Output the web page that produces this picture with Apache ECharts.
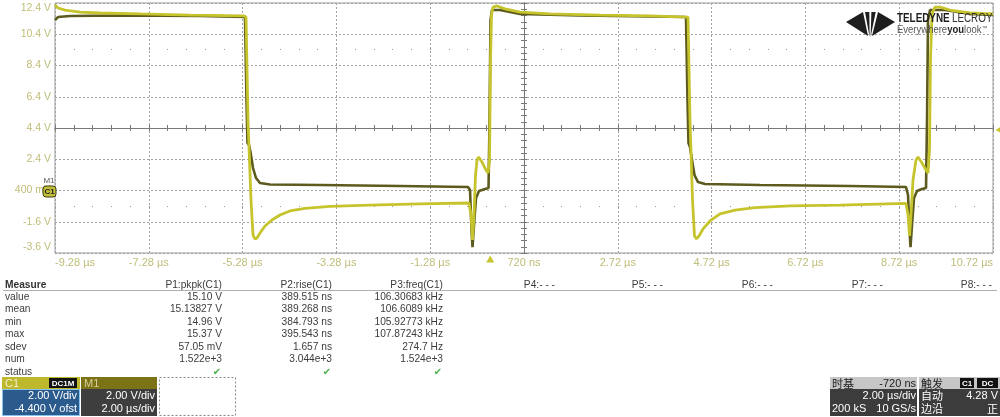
<!DOCTYPE html>
<html><head><meta charset="utf-8">
<script src="https://cdn.jsdelivr.net/npm/echarts@6/dist/echarts.min.js"></script>
<style>html,body{margin:0;padding:0;background:#fff}#c{width:1000px;height:417px}</style>
</head><body><div id="c"></div>
<script>
// ---- axis tick labels ----
const xTickLabels = ['-9.28 µs','-7.28 µs','-5.28 µs','-3.28 µs','-1.28 µs','720 ns','2.72 µs','4.72 µs','6.72 µs','8.72 µs','10.72 µs'];
const yTickLabels = ['-3.6 V','-1.6 V','400 mV','2.4 V','4.4 V','6.4 V','8.4 V','10.4 V','12.4 V'];
const xMin = -9.28, xMax = 10.72, yMin = -3.6, yMax = 12.4;

// ---- C1 trace (time µs, volts) ----
const c1Time = [-9.28,-9.216,-9.067,-8.747,-8.32,-7.468,-6.402,-5.25,-5.207,-5.165,-5.101,-5.058,-5.016,-4.973,-4.909,-4.802,-4.653,-4.483,-4.269,-3.95,-3.417,-2.564,-1.498,-0.453,
 -0.41,-0.378,-0.346,-0.314,-0.282,-0.25,-0.175,-0.09,-0.047,-0.015,0.006,0.027,0.059,0.144,0.315,0.635,1.274,2.34,3.406,4.174,
 4.217,4.259,4.313,4.355,4.398,4.451,4.537,4.686,4.899,5.219,5.646,6.392,7.458,8.865,
 8.908,8.94,8.972,9.014,9.078,9.121,9.206,9.292,9.334,9.366,9.387,9.419,9.483,9.59,9.803,10.229,10.72];
const c1Volt = [12.27,12.08,11.95,11.82,11.76,11.70,11.63,11.57,11.50,4.91,-0.21,-2.45,-2.70,-2.64,-2.32,-1.87,-1.49,-1.17,-0.91,-0.75,-0.62,-0.53,-0.46,-0.40,
 -1.17,-2.77,-1.17,1.39,2.35,2.54,2.22,1.71,1.52,2.35,8.75,11.63,12.14,12.21,12.02,11.82,11.70,11.63,11.57,11.50,
 11.50,4.91,-0.21,-2.51,-2.70,-2.51,-2.06,-1.55,-1.10,-0.85,-0.69,-0.59,-0.53,-0.43,
 -1.17,-2.51,-1.17,1.07,2.35,2.54,2.16,1.71,1.52,2.99,8.75,11.70,12.14,12.14,11.95,11.76,11.70];

// ---- M1 trace (time µs, volts) ----
const m1Time = [-9.28,-9.216,-8.96,-7.894,-6.188,-5.229,-5.197,-5.176,-5.144,-5.112,-5.058,-4.994,-4.909,-4.696,-3.63,-1.924,-0.474,
 -0.431,-0.399,-0.378,-0.346,-0.303,-0.239,-0.111,-0.036,-0.015,0.006,0.038,0.209,0.635,1.914,4.174,
 4.206,4.227,4.259,4.302,4.355,4.43,4.579,5.752,7.671,8.865,
 8.908,8.94,8.961,8.993,9.036,9.1,9.206,9.292,9.313,9.334,9.377,9.697,10.229,10.72];
const m1Volt = [11.31,11.50,11.57,11.60,11.57,11.50,6.19,3.44,3.31,2.86,1.84,1.20,0.88,0.78,0.75,0.69,0.62,
 0.43,-2.13,-3.22,-1.81,-0.08,0.37,0.50,0.56,4.91,11.31,11.95,11.95,11.70,11.60,11.50,
 6.19,3.44,3.18,2.35,1.39,0.94,0.82,0.75,0.69,0.62,
 0.11,-2.13,-3.22,-1.81,-0.08,0.37,0.50,0.56,4.91,11.31,11.95,11.95,11.70,11.63];

const triggerTime = 0, triggerLevel = 4.28;

// ---- measurement table ----
const measureRows = ['value','mean','min','max','sdev','num','status'];
const measureHeaders = ['P1:pkpk(C1)','P2:rise(C1)','P3:freq(C1)','P4:- - -','P5:- - -','P6:- - -','P7:- - -','P8:- - -'];
const p1Values = ['15.10 V','15.13827 V','14.96 V','15.37 V','57.05 mV','1.522e+3'];
const p2Values = ['389.515 ns','389.268 ns','384.793 ns','395.543 ns','1.657 ns','3.044e+3'];
const p3Values = ['106.30683 kHz','106.6089 kHz','105.92773 kHz','107.87243 kHz','274.7 Hz','1.524e+3'];

const FONT = "'Liberation Sans', Arial, sans-serif";
const CJK = "'Noto Sans CJK SC', sans-serif";
const chart = echarts.init(document.getElementById('c'), null, {renderer:'canvas'});

function T(x, y, s, o) {
  o = o || {};
  const st = {text: s, fill: o.fill || '#3c3c3c', font: (o.weight||'normal') + ' ' + (o.size||10.2) + 'px ' + (o.family||FONT),
    align: o.align || 'left', verticalAlign: 'middle', textAlign: o.align || 'left', textVerticalAlign: 'middle'};
  if (o.rich) st.rich = o.rich;
  const el = {type:'text', x:x, y:y, z:100, silent:true, style: st};
  if (o.scaleX) el.scaleX = o.scaleX;
  return el;
}
function R(x, y, w, h, fill, stroke, dash) {
  return {type:'rect', z:90, silent:true, shape:{x:x, y:y, width:w, height:h},
    style:{fill: fill || 'none', stroke: stroke || null, lineWidth: 1, lineDash: dash || null}};
}

const gfx = [];
// table header
gfx.push(T(5, 285, 'Measure', {weight:'bold', fill:'#333'}));
const colRight = [222, 332, 443, 555, 663, 773, 883, 992];
measureHeaders.forEach((h, i) => gfx.push(T(colRight[i], 285, h, {align:'right'})));
gfx.push({type:'line', z:90, silent:true, shape:{x1:3, y1:290.5, x2:997, y2:290.5}, style:{stroke:'#b0b0b0', lineWidth:1}});
measureRows.forEach((r, i) => gfx.push(T(5, 297 + i*12.5, r)));
[p1Values, p2Values, p3Values].forEach((col, c) => {
  col.forEach((v, i) => gfx.push(T(colRight[c], 297 + i*12.5, v, {align:'right'})));
  gfx.push(T(colRight[c] - 5, 372, '✔', {align:'center', fill:'#4cb04c', size:10, family:"'DejaVu Sans'"}));
});

// C1 channel panel
gfx.push(R(2, 377, 78, 12, '#bdb82c'));
gfx.push(T(5, 383.5, 'C1', {fill:'#f4f0d0', size:11}));
gfx.push(R(49, 378, 28, 10, '#111'));
gfx.push(T(63, 383.5, 'DC1M', {fill:'#fff', size:8, align:'center', weight:'bold'}));
gfx.push(R(2.5, 389.5, 77, 26, '#2b5a8c', '#86c2ec'));
gfx.push(T(77, 396, '2.00 V/div', {fill:'#fff', align:'right', size:11}));
gfx.push(T(77, 409, '-4.400 V ofst', {fill:'#fff', align:'right', size:11}));
// M1 panel
gfx.push(R(81, 377, 76, 12, '#7c7316'));
gfx.push(T(84, 383.5, 'M1', {fill:'#d8cf98', size:11}));
gfx.push(R(81, 389, 76, 27, '#3e3e3e'));
gfx.push(T(155, 396, '2.00 V/div', {fill:'#fff', align:'right', size:11}));
gfx.push(T(155, 409, '2.00 µs/div', {fill:'#fff', align:'right', size:11}));
// dashed empty box
gfx.push(R(159.5, 377.5, 76, 38, null, '#8a8a8a', [2,2]));

// timebase panel
gfx.push(R(830, 377, 87, 12, '#c6c6c6'));
gfx.push(T(832, 383.5, '时基', {fill:'#222', family:CJK, size:11}));
gfx.push(T(916, 383.5, '-720 ns', {fill:'#222', align:'right', size:11}));
gfx.push(R(830, 389, 87, 27, '#3c3c3c'));
gfx.push(T(916, 396, '2.00 µs/div', {fill:'#fff', align:'right', size:11}));
gfx.push(T(832, 409, '200 kS', {fill:'#fff', size:11}));
gfx.push(T(916, 409, '10 GS/s', {fill:'#fff', align:'right', size:11}));
// trigger panel
gfx.push(R(919, 377, 81, 12, '#c6c6c6'));
gfx.push(T(921, 383.5, '触发', {fill:'#222', family:CJK, size:11}));
gfx.push(R(960, 378, 14, 10, '#111'));
gfx.push(T(967, 383.5, 'C1', {fill:'#fff', size:8, align:'center', weight:'bold'}));
gfx.push(R(977, 378, 21, 10, '#111'));
gfx.push(T(987.5, 383.5, 'DC', {fill:'#fff', size:8, align:'center', weight:'bold'}));
gfx.push(R(919, 389, 81, 27, '#3c3c3c'));
gfx.push(T(921, 396, '自动', {fill:'#fff', family:CJK, size:11}));
gfx.push(T(998, 396, '4.28 V', {fill:'#fff', align:'right', size:11}));
gfx.push(T(921, 409, '边沿', {fill:'#fff', family:CJK, size:11}));
gfx.push(T(998, 409, '正', {fill:'#fff', align:'right', family:CJK, size:11}));

// channel marker on left
gfx.push(T(49, 181, 'M1', {fill:'#555', size:8, align:'center'}));
gfx.push({type:'rect', z:95, silent:true, shape:{x:43, y:186, width:13, height:11, r:3}, style:{fill:'#c4bf3a', stroke:'#3c3c10', lineWidth:1}});
gfx.push(T(49.5, 191.5, 'C1', {fill:'#222', size:8, align:'center', weight:'bold'}));

// logo
const logoPolys = [
  [[846,22],[863,12],[868,36]],
  [[865,12],[869.3,12],[869.6,37]],
  [[871.4,12],[875.7,12],[870.6,37]],
  [[878,12],[895,22],[872,36]]
];
logoPolys.forEach(p => gfx.push({type:'polygon', z:100, silent:true, shape:{points:p}, style:{fill:'#1e1e1e'}}));
gfx.push(T(897, 19, '{b|TELEDYNE} {l|LECROY}', {scaleX:0.79, rich:{
  b:{font:"bold 12.5px " + FONT, fill:'#1e1e1e'},
  l:{font:"12.5px " + FONT, fill:'#333'}}}));
gfx.push(T(897, 30, '{g|Everywhere}{b|you}{g|look}{t|™}', {scaleX:0.95, rich:{
  g:{font:"10px " + FONT, fill:'#555'},
  b:{font:"bold 10px " + FONT, fill:'#222'},
  t:{font:"6px " + FONT, fill:'#555', verticalAlign:'top'}}}));

const labelColor = '#bfbd78';
const gridColor = '#a2a2a2';
const centerColor = '#7a7a7a';

function centerX(ticksInside) {
  return {type:'value', gridIndex:0, min:-5, max:5, interval:1, position:'bottom',
    axisLine:{show:true, onZero:true, onZeroAxisIndex:2, lineStyle:{color:centerColor, width:1}},
    axisTick:{show:true, inside:ticksInside, length:3, lineStyle:{color:centerColor}},
    minorTick:{show:true, splitNumber:5, length:3, lineStyle:{color:centerColor}},
    axisLabel:{show:false}, splitLine:{show:false}};
}
function centerY(ticksInside) {
  return {type:'value', gridIndex:0, min:-4, max:4, interval:1, position:'left',
    axisLine:{show:true, onZero:true, onZeroAxisIndex:2, lineStyle:{color:centerColor, width:1}},
    axisTick:{show:true, inside:ticksInside, length:3, lineStyle:{color:centerColor}},
    minorTick:{show:true, splitNumber:5, length:3, lineStyle:{color:centerColor}},
    axisLabel:{show:false}, splitLine:{show:false}};
}
function dotRow(pos) {
  return {type:'value', gridIndex:0, min:-5, max:5, interval:1, position:pos, offset:-47,
    axisLine:{show:false, onZero:false},
    axisTick:{show:true, length:1, lineStyle:{color:'#9a9a9a'}},
    minorTick:{show:true, splitNumber:5, length:1, lineStyle:{color:'#9a9a9a'}},
    axisLabel:{show:false}, splitLine:{show:false}};
}

const option = {
  animation:false,
  backgroundColor:'#ffffff',
  grid:{left:55, top:3, width:938, height:250, show:true, borderColor:'#9c9c9c', borderWidth:1, backgroundColor:'transparent'},
  xAxis:[
    {type:'value', min:0, max:10, interval:1, position:'bottom',
      axisLine:{show:false, onZero:false}, axisTick:{show:false},
      axisLabel:{show:true, margin:4, color:labelColor, fontSize:11, fontFamily:FONT,
        alignMinLabel:'left', alignMaxLabel:'right',
        formatter:(v) => xTickLabels[Math.round(v)]},
      splitLine:{show:true, lineStyle:{color:gridColor, type:[2,2], width:1}}},
    {type:'value', min:xMin, max:xMax, show:false, axisLine:{onZero:false}},
    centerX(true), centerX(false), dotRow('top'), dotRow('bottom')
  ],
  yAxis:[
    {type:'value', min:0, max:8, interval:1, position:'left',
      axisLine:{show:false, onZero:false}, axisTick:{show:false},
      axisLabel:{show:true, margin:4, color:labelColor, fontSize:10.5, fontFamily:FONT,
        verticalAlignMinLabel:'bottom', verticalAlignMaxLabel:'top',
        formatter:(v) => yTickLabels[Math.round(v)]},
      splitLine:{show:true, lineStyle:{color:gridColor, type:[2,2], width:1}}},
    {type:'value', min:yMin, max:yMax, show:false, axisLine:{onZero:false}},
    centerY(true), centerY(false)
  ],
  series:[
    {name:'M1', type:'line', xAxisIndex:1, yAxisIndex:1, showSymbol:false, symbol:'none', z:5,
      data: m1Time.map((t,i) => [t, m1Volt[i]]),
      lineStyle:{color:'#5c5a1c', width:2.6}, itemStyle:{color:'#5c5a1c'}},
    {name:'C1', type:'line', xAxisIndex:1, yAxisIndex:1, showSymbol:false, symbol:'none', z:6,
      data: c1Time.map((t,i) => [t, c1Volt[i]]),
      lineStyle:{color:'#c6c42c', width:2.8}, itemStyle:{color:'#c6c42c'},
      markPoint:{silent:true, label:{show:false}, itemStyle:{color:'#c8c430'},
        data:[
          {coord:[triggerTime, yMin], symbol:'triangle', symbolSize:[8,7], symbolOffset:[0,6]},
          {coord:[xMax, triggerLevel], symbol:'triangle', symbolRotate:90, symbolSize:[8,7], symbolOffset:[6,0]}
        ]}}
  ],
  graphic: gfx
};
chart.setOption(option);
</script></body></html>
